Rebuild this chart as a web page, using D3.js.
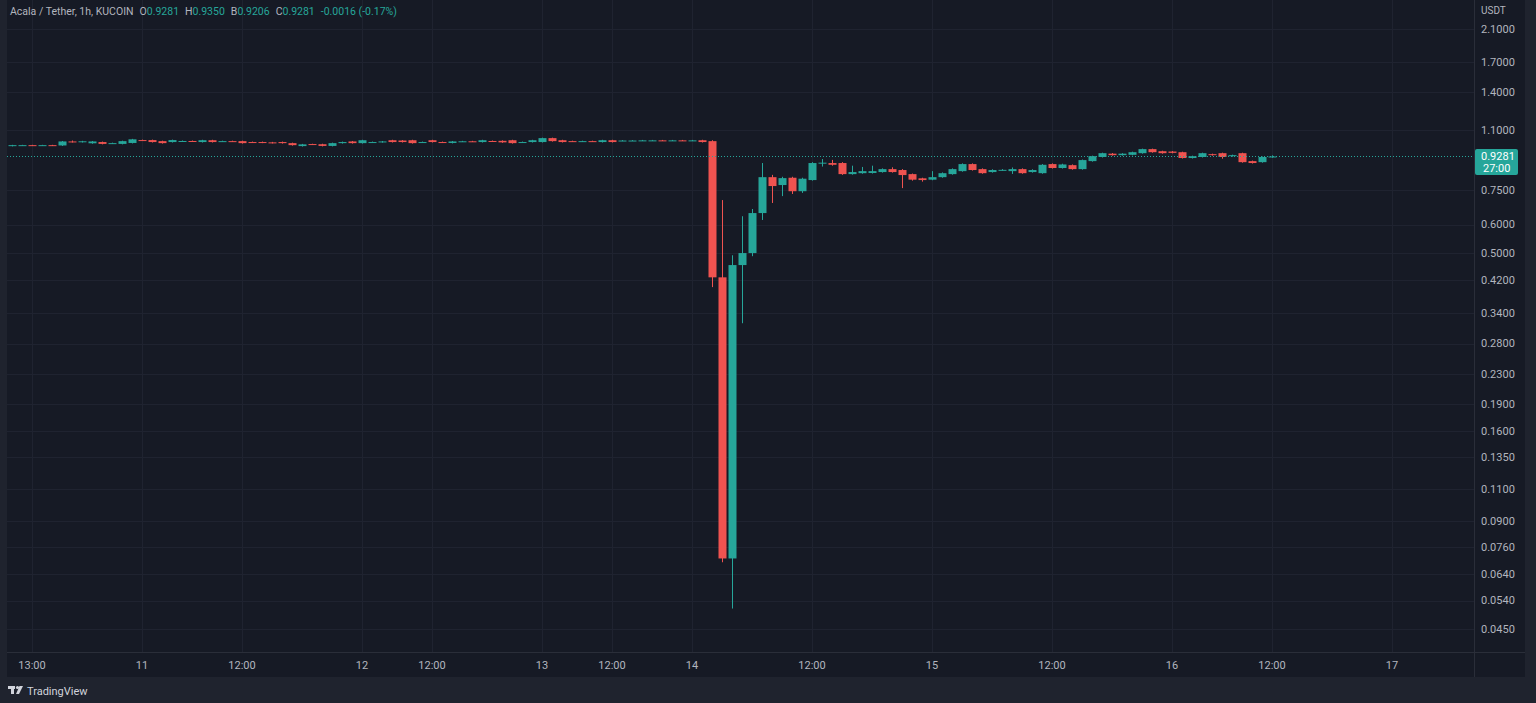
<!DOCTYPE html>
<html><head><meta charset="utf-8">
<script src="https://cdn.jsdelivr.net/npm/d3@7"></script>
<style>
html,body{margin:0;padding:0;background:#1f232e;overflow:hidden}
svg{display:block;font-family:Roboto,"Liberation Sans",sans-serif}
</style></head><body>
<svg id="c" width="1536" height="703"></svg>
<script>
// ---- data (1h candles, Acala / Tether, KUCOIN) ----
const opens = [0.993,0.998,0.998,0.997,0.998,0.996,1.022,1.018,1.010,1.018,1.010,1.006,1.012,1.031,1.031,1.024,1.018,1.024,1.025,1.018,
1.030,1.024,1.024,1.024,1.018,1.018,1.016,1.018,1.011,0.992,1.005,1.004,0.993,1.011,1.022,1.011,1.018,1.017,1.030,1.028,
1.030,1.017,1.030,1.018,1.012,1.022,1.023,1.018,1.025,1.026,1.030,1.017,1.018,1.018,1.044,1.030,1.024,1.023,1.024,1.018,
1.030,1.027,1.028,1.028,1.029,1.029,1.028,1.029,1.028,1.030,1.024,0.428,0.0707,0.463,0.500,0.646,0.813,0.773,0.810,0.743,
0.798,0.888,0.890,0.890,0.829,0.834,0.835,0.840,0.856,0.851,0.829,0.807,0.800,0.813,0.829,0.845,0.884,0.856,0.840,0.851,
0.845,0.856,0.840,0.834,0.884,0.862,0.878,0.856,0.901,0.925,0.945,0.936,0.938,0.948,0.973,0.960,0.958,0.954,0.919,0.925,
0.942,0.948,0.930,0.948,0.901,0.895,0.9281];
const closes = [0.998,0.998,0.997,0.998,0.996,1.022,1.019,1.023,1.022,1.006,1.011,1.024,1.036,1.030,1.018,1.011,1.031,1.025,1.024,1.030,
1.018,1.024,1.023,1.011,1.017,1.014,1.012,1.011,0.998,1.003,1.004,0.993,1.011,1.018,1.011,1.030,1.018,1.022,1.018,1.018,
1.011,1.018,1.018,1.017,1.022,1.023,1.022,1.030,1.024,1.016,1.011,1.018,1.030,1.044,1.024,1.018,1.023,1.024,1.023,1.030,
1.018,1.028,1.028,1.029,1.029,1.028,1.029,1.028,1.029,1.018,0.428,0.0707,0.463,0.500,0.646,0.813,0.768,0.808,0.743,0.805,
0.890,0.892,0.880,0.829,0.840,0.845,0.845,0.856,0.840,0.824,0.800,0.798,0.813,0.834,0.856,0.884,0.851,0.834,0.851,0.852,
0.856,0.834,0.851,0.880,0.862,0.882,0.856,0.907,0.930,0.948,0.936,0.945,0.954,0.973,0.954,0.948,0.950,0.919,0.930,0.948,
0.936,0.925,0.936,0.895,0.890,0.925,0.9281];
const highs = [1.000,1.000,1.000,1.000,1.000,1.025,1.028,1.026,1.025,1.021,1.014,1.027,1.039,1.034,1.034,1.027,1.034,1.028,1.028,1.033,
1.033,1.027,1.027,1.027,1.021,1.021,1.019,1.021,1.014,1.006,1.007,1.007,1.014,1.021,1.025,1.033,1.021,1.025,1.033,1.031,
1.033,1.021,1.033,1.021,1.025,1.026,1.026,1.033,1.028,1.029,1.033,1.021,1.033,1.047,1.047,1.033,1.027,1.027,1.027,1.033,
1.033,1.031,1.031,1.032,1.032,1.032,1.032,1.032,1.032,1.033,1.030,0.702,0.493,0.633,0.663,0.890,0.825,0.815,0.815,0.810,
0.895,0.913,0.908,0.895,0.875,0.868,0.875,0.860,0.866,0.856,0.832,0.810,0.845,0.838,0.860,0.888,0.888,0.860,0.855,0.856,
0.865,0.860,0.855,0.884,0.888,0.886,0.882,0.910,0.933,0.951,0.949,0.948,0.957,0.976,0.976,0.963,0.961,0.957,0.933,0.951,
0.945,0.951,0.939,0.951,0.904,0.928,0.9350];
const lows = [0.990,0.995,0.995,0.995,0.993,0.993,1.015,1.015,1.007,1.003,1.007,1.003,1.009,1.027,1.015,1.008,1.015,1.021,1.021,1.015,
1.015,1.021,1.020,1.008,1.014,1.011,1.009,1.008,0.995,0.989,1.001,0.990,0.990,1.008,1.008,1.008,1.015,1.014,1.015,1.015,
1.008,1.014,1.015,1.014,1.009,1.019,1.019,1.015,1.021,1.013,1.008,1.014,1.015,1.015,1.021,1.015,1.020,1.020,1.020,1.015,
1.015,1.024,1.025,1.025,1.026,1.025,1.025,1.025,1.025,1.015,0.402,0.069,0.0513,0.319,0.490,0.618,0.689,0.720,0.730,0.735,
0.795,0.870,0.875,0.825,0.826,0.831,0.832,0.837,0.837,0.758,0.795,0.790,0.797,0.810,0.826,0.842,0.848,0.831,0.837,0.848,
0.830,0.831,0.837,0.831,0.859,0.859,0.853,0.853,0.898,0.922,0.933,0.933,0.935,0.945,0.951,0.945,0.947,0.916,0.916,0.922,
0.933,0.915,0.927,0.892,0.887,0.892,0.9206];

const priceTicks = [2.1,1.7,1.4,1.1,0.75,0.6,0.5,0.42,0.34,0.28,0.23,0.19,0.16,0.135,0.11,0.09,0.076,0.064,0.054,0.045];
const timeTickIndex = [2,13,23,35,42,53,60,68,80,92,104,116,126,138];
const timeTickLabels = ["13:00","11","12:00","12","12:00","13","12:00","14","12:00","15","12:00","16","12:00","17"];

const header = {symbol:"Acala / Tether, 1h, KUCOIN", o:"0.9281", h:"0.9350", l:"0.9206", c:"0.9281", chg:"-0.0016 (-0.17%)"};
const lastLabel = ["0.9281","27:00"];

// ---- layout ----
const W=1536,H=703;
const pane={l:7,r:1525,t:0,b:677};
const plotR=1474, plotB=652;
const bg="#161a25", grid="#1f2330", txt="#b2b5be", up="#26a69a", down="#ef5350", sep="#2a2e39";

const svg=d3.select("#c");
svg.append("rect").attr("width",W).attr("height",H).attr("fill","#1f232e");
svg.append("rect").attr("x",pane.l).attr("y",pane.t).attr("width",pane.r-pane.l).attr("height",pane.b-pane.t).attr("fill",bg);

const x=d3.scaleLinear().domain([0,146]).range([12,1472]);
const y=d3.scaleLog().domain([0.045,2.1]).range([629,29]);

const plot=svg.append("g");
// grid
plot.selectAll(".hg").data(priceTicks).join("line")
 .attr("x1",pane.l).attr("x2",plotR).attr("y1",d=>Math.round(y(d))+0.5).attr("y2",d=>Math.round(y(d))+0.5)
 .attr("stroke",grid).attr("stroke-width",1);
plot.selectAll(".vg").data(timeTickIndex).join("line")
 .attr("x1",d=>Math.round(x(d))+0.5).attr("x2",d=>Math.round(x(d))+0.5).attr("y1",0).attr("y2",plotB)
 .attr("stroke",grid).attr("stroke-width",1);

// separators
svg.append("line").attr("x1",plotR+0.5).attr("x2",plotR+0.5).attr("y1",0).attr("y2",pane.b).attr("stroke",sep);
svg.append("line").attr("x1",pane.l).attr("x2",pane.r).attr("y1",plotB+0.5).attr("y2",plotB+0.5).attr("stroke",sep);

// candles
const idx=d3.range(opens.length);
const bw=8;
const cg=plot.append("g");
cg.selectAll(".wick").data(idx).join("line")
 .attr("x1",i=>Math.round(x(i))+0.5).attr("x2",i=>Math.round(x(i))+0.5)
 .attr("y1",i=>y(highs[i])).attr("y2",i=>y(lows[i]))
 .attr("stroke",i=>closes[i]>=opens[i]?up:down).attr("stroke-width",1);
cg.selectAll(".body").data(idx).join("rect")
 .attr("x",i=>Math.round(x(i))-bw/2+0.5).attr("width",bw)
 .attr("y",i=>Math.min(y(opens[i]),y(closes[i])))
 .attr("height",i=>Math.max(1,Math.abs(y(opens[i])-y(closes[i]))))
 .attr("fill",i=>closes[i]>=opens[i]?up:down);

// last price dotted line
const last=closes[closes.length-1];
const ly=Math.round(y(last))+0.5;
plot.append("line").attr("x1",pane.l).attr("x2",plotR).attr("y1",ly).attr("y2",ly)
 .attr("stroke",up).attr("stroke-width",1).attr("stroke-dasharray","1,2");

// price axis
const ya=svg.append("g").attr("font-size",11).attr("fill",txt);
ya.selectAll("text").data(priceTicks).join("text")
 .attr("x",1481).attr("y",d=>y(d)).attr("dy","0.35em").text(d=>d3.format(".4f")(d));
svg.append("text").attr("x",1481).attr("y",10).attr("dy","0.35em").attr("font-size",10).attr("fill",txt).text("USDT");
// last price label
svg.append("rect").attr("x",1475).attr("y",ly-7.5).attr("width",43).attr("height",26).attr("rx",2).attr("fill",up);
svg.append("text").attr("x",1481).attr("y",ly).attr("dy","0.35em").attr("font-size",11).attr("fill","#ffffff").text(lastLabel[0]);
svg.append("text").attr("x",1483).attr("y",ly+12).attr("dy","0.35em").attr("font-size",11).attr("fill","#ffffff").text(lastLabel[1]);

// time axis
const xa=svg.append("g").attr("font-size",11).attr("fill",txt).attr("text-anchor","middle");
xa.selectAll("text").data(timeTickIndex).join("text")
 .attr("x",d=>x(d)).attr("y",665).attr("dy","0.35em").text((d,i)=>timeTickLabels[i]);

// header
const ht=svg.append("text").attr("x",10).attr("y",11).attr("dy","0.35em").attr("font-size",10.5).attr("fill",txt);
ht.append("tspan").text(header.symbol);
[["O",header.o],["H",header.h],["B",header.l],["C",header.c]].forEach(([k,v])=>{
  ht.append("tspan").attr("dx",6).attr("fill",txt).text(k);
  ht.append("tspan").attr("fill",up).text(v);
});
ht.append("tspan").attr("dx",6).attr("fill",up).text(header.chg);

// TradingView logo
const lg=svg.append("g").attr("fill","#d1d4dc");
lg.append("rect").attr("x",8).attr("y",686).attr("width",7).attr("height",3);
lg.append("rect").attr("x",11).attr("y",686).attr("width",3).attr("height",8);
lg.append("circle").attr("cx",17.5).attr("cy",687.5).attr("r",1.6);
lg.append("path").attr("d","M19.5 686 L23 686 L19 694 L16 694 Z");
svg.append("text").attr("x",27).attr("y",691).attr("dy","0.35em").attr("font-size",11).attr("fill","#d1d4dc").text("TradingView");
</script>
</body></html>
